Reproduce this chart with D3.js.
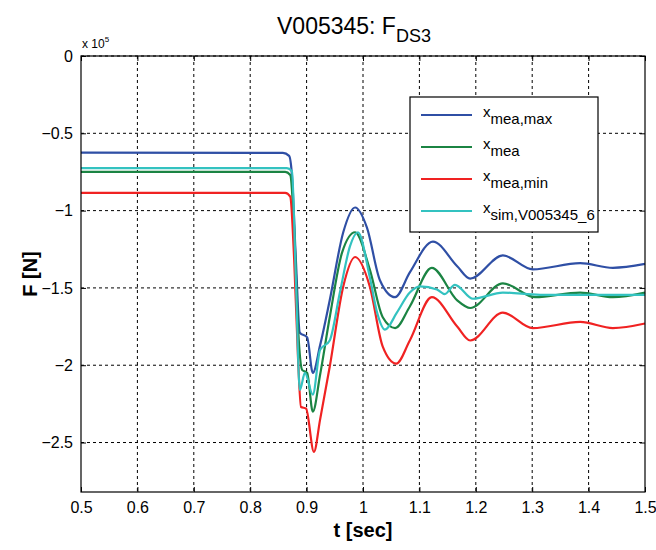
<!DOCTYPE html>
<html>
<head>
<meta charset="utf-8">
<script src="https://cdn.jsdelivr.net/npm/d3@7"></script>
<style>
  body { margin: 0; background: #fff; }
  text { font-family: "Liberation Sans", Arial, sans-serif; }
</style>
</head>
<body>
<svg width="656" height="550"></svg>
<script>
// data (F in units of 1e5 N)
var tMax = [0.5, 0.858, 0.869, 0.874, 0.881, 0.888, 0.901, 0.911, 0.924, 0.941, 0.965, 0.986, 1.007, 1.030, 1.057, 1.083, 1.124, 1.167, 1.190, 1.248, 1.301, 1.385, 1.443, 1.5];
var fMax = [-0.625, -0.627, -0.646, -0.77, -1.32, -1.79, -1.82, -2.05, -1.87, -1.58, -1.14, -0.98, -1.11, -1.45, -1.56, -1.40, -1.20, -1.36, -1.44, -1.29, -1.38, -1.34, -1.37, -1.345];

var tMea = [0.5, 0.862, 0.871, 0.878, 0.885, 0.892, 0.901, 0.911, 0.924, 0.941, 0.963, 0.986, 1.012, 1.035, 1.057, 1.083, 1.122, 1.167, 1.190, 1.248, 1.305, 1.385, 1.443, 1.5];
var fMea = [-0.75, -0.75, -0.77, -1.12, -1.77, -2.03, -2.05, -2.30, -2.06, -1.69, -1.27, -1.14, -1.38, -1.69, -1.76, -1.62, -1.37, -1.58, -1.63, -1.47, -1.56, -1.53, -1.56, -1.53];

var tMin = [0.5, 0.862, 0.871, 0.878, 0.885, 0.890, 0.899, 0.913, 0.924, 0.941, 0.965, 0.986, 1.012, 1.035, 1.059, 1.083, 1.122, 1.167, 1.190, 1.248, 1.301, 1.385, 1.443, 1.5];
var fMin = [-0.885, -0.885, -0.91, -1.32, -1.97, -2.27, -2.28, -2.56, -2.35, -2.01, -1.49, -1.30, -1.49, -1.88, -1.99, -1.84, -1.56, -1.75, -1.84, -1.66, -1.76, -1.72, -1.76, -1.73];

var tSim = [0.5, 0.865, 0.874, 0.881, 0.888, 0.897, 0.911, 0.924, 0.941, 0.959, 0.977, 0.991, 1.012, 1.025, 1.039, 1.060, 1.083, 1.101, 1.131, 1.145, 1.163, 1.195, 1.248, 1.314, 1.5];
var fSim = [-0.725, -0.725, -0.745, -1.45, -2.16, -2.05, -2.19, -1.90, -1.84, -1.53, -1.23, -1.14, -1.43, -1.66, -1.77, -1.66, -1.53, -1.49, -1.51, -1.54, -1.48, -1.57, -1.53, -1.545, -1.545];

var xTicks = [0.5, 0.6, 0.7, 0.8, 0.9, 1, 1.1, 1.2, 1.3, 1.4, 1.5];
var yTicks = [0, -0.5, -1, -1.5, -2, -2.5];

var series = [
    {name: "mea,max", t: tMax, f: fMax, color: "#2f4fa5"},
    {name: "mea", t: tMea, f: fMea, color: "#1b8443"},
    {name: "mea,min", t: tMin, f: fMin, color: "#f02222"},
    {name: "sim,V005345_6", t: tSim, f: fSim, color: "#33c2c0"}
];

var svg = d3.select("svg"),
    margin = {top: 56, right: 11, bottom: 58, left: 81},
    width = svg.attr("width") - margin.left - margin.right,
    height = svg.attr("height") - margin.top - margin.bottom,
    g = svg.append("g").attr("transform", "translate(" + margin.left + "," + margin.top + ")");

var x = d3.scaleLinear().domain([0.5, 1.5]).range([0, width]),
    y = d3.scaleLinear().domain([-2.82, 0]).range([height, 0]);

// grid
g.append("g").selectAll("line").data(xTicks.slice(1, -1)).enter().append("line")
    .attr("x1", function (d) { return x(d); }).attr("x2", function (d) { return x(d); })
    .attr("y1", 0).attr("y2", height)
    .attr("stroke", "#000").attr("stroke-width", 1).attr("stroke-dasharray", "3,3");
g.append("g").selectAll("line").data(yTicks).enter().append("line")
    .attr("y1", function (d) { return y(d); }).attr("y2", function (d) { return y(d); })
    .attr("x1", 0).attr("x2", width)
    .attr("stroke", "#000").attr("stroke-width", 1).attr("stroke-dasharray", "3,3");

// inward ticks on all sides
var xb = d3.axisBottom(x).tickValues(xTicks).tickSizeInner(-5).tickSizeOuter(0).tickPadding(10)
    .tickFormat(function (d) { return d3.format("")(d); });
var gx = g.append("g").attr("transform", "translate(0," + height + ")").call(xb);
g.append("g").call(d3.axisTop(x).tickValues(xTicks).tickSizeInner(-5).tickSizeOuter(0).tickFormat(""));
var yl = d3.axisLeft(y).tickValues(yTicks).tickSizeInner(-5).tickSizeOuter(0).tickPadding(8)
    .tickFormat(function (d) { return d3.format("")(d); });
var gy = g.append("g").call(yl);
g.append("g").attr("transform", "translate(" + width + ",0)")
    .call(d3.axisRight(y).tickValues(yTicks).tickSizeInner(-5).tickSizeOuter(0).tickFormat(""));
g.selectAll(".domain").remove();
g.selectAll(".tick line").attr("stroke", "#000");
gx.selectAll("text").style("font-size", "16px").attr("fill", "#000");
gy.selectAll("text").style("font-size", "16px").attr("fill", "#000");

// lines
var line = d3.line()
    .curve(d3.curveMonotoneX)
    .x(function (d) { return x(d[0]); })
    .y(function (d) { return y(d[1]); });

g.selectAll(".series").data(series).enter().append("path")
    .attr("class", "series")
    .attr("fill", "none")
    .attr("stroke", function (d) { return d.color; })
    .attr("stroke-width", 2.2)
    .attr("d", function (d) { return line(d.t.map(function (t, i) { return [t, d.f[i]]; })); });

// box
g.append("rect").attr("width", width).attr("height", height)
    .attr("fill", "none").attr("stroke", "#000").attr("stroke-width", 1.2);

// legend
var lg = svg.append("g").attr("transform", "translate(410,97)");
lg.append("rect").attr("width", 188).attr("height", 135)
    .attr("fill", "#fff").attr("stroke", "#000").attr("stroke-width", 1.2);
var item = lg.selectAll(".item").data(series).enter().append("g")
    .attr("transform", function (d, i) { return "translate(0," + (18 + i * 32) + ")"; });
item.append("line").attr("x1", 11).attr("x2", 62)
    .attr("stroke", function (d) { return d.color; }).attr("stroke-width", 2.2);
var lt = item.append("text").attr("x", 73).attr("y", 2).style("font-size", "15px").attr("fill", "#000");
lt.append("tspan").text("x");
lt.append("tspan").attr("dy", 7).style("font-size", "15px").text(function (d) { return d.name; });

// titles
var title = svg.append("text").attr("x", 277).attr("y", 34).style("font-size", "23px").attr("fill", "#000");
title.append("tspan").text("V005345: F");
title.append("tspan").attr("dy", 8).style("font-size", "18px").text("DS3");

var ex = svg.append("text").attr("x", 82).attr("y", 48).style("font-size", "12px").attr("fill", "#000");
ex.append("tspan").text("x 10");
ex.append("tspan").attr("dy", -6).style("font-size", "8px").text("5");

svg.append("text").attr("x", margin.left + width / 2).attr("y", 537)
    .attr("text-anchor", "middle").style("font-size", "20px").style("font-weight", "bold")
    .text("t [sec]");
svg.append("text").attr("transform", "translate(37," + (margin.top + height / 2) + ") rotate(-90)")
    .attr("text-anchor", "middle").style("font-size", "20px").style("font-weight", "bold")
    .text("F [N]");
</script>
</body>
</html>
